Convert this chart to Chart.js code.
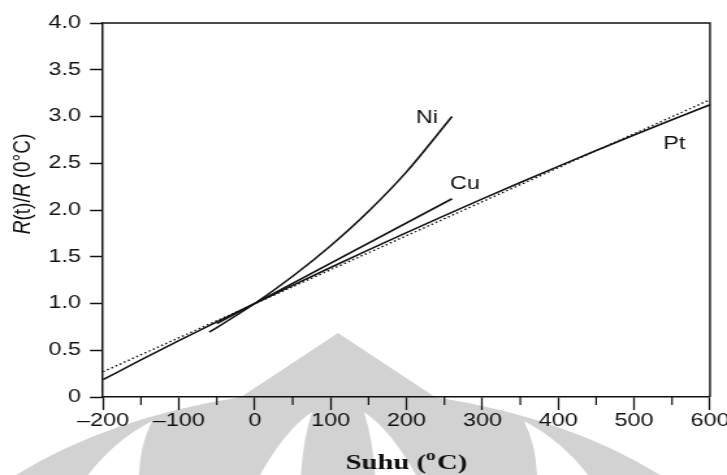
<!DOCTYPE html>
<html>
<head>
<meta charset="utf-8">
<title>Rasio hambatan terhadap suhu</title>
<script src="https://cdn.jsdelivr.net/npm/chart.js@4/dist/chart.umd.min.js"></script>
<style>
  html, body { margin: 0; padding: 0; background: #fff; overflow: hidden; }
  /* kanvas digambar 559px lalu direntangkan mendatar ke 727px */
  #bingkai { width: 559px; height: 475px; transform: scaleX(1.3005); transform-origin: 0 0; }
</style>
</head>
<body>
<div id="bingkai"><canvas id="grafik"></canvas></div>
<script>
// ===============================
// R(t)/R(0°C) untuk Pt, Ni dan Cu
// ===============================
const SKALA_X = 727 / 559;

// Platina (kurva)
const suhuPt = [-200, -150, -100, -50, 0, 50, 100, 150, 200, 250, 300, 350, 400, 450, 500, 550, 600];
const rasioPt = [0.185, 0.397, 0.603, 0.803, 1.000, 1.194, 1.385, 1.573, 1.758, 1.940, 2.119, 2.294, 2.467, 2.636, 2.802, 2.965, 3.125];

// garis lurus pendekatan (titik-titik)
const suhuLinear = [-200, 600];
const rasioLinear = [0.27, 3.18];

// Nikel
const suhuNi = [-60, -50, 0, 50, 100, 150, 200, 260];
const rasioNi = [0.695, 0.743, 1.000, 1.291, 1.618, 1.987, 2.408, 3.000];

// Tembaga
const suhuCu = [-50, 260];
const rasioCu = [0.785, 2.12];

// tick sumbu
const tickSuhu = [-200, -100, 0, 100, 200, 300, 400, 500, 600];
const labelSuhu = ['\u2013200', '\u2013100', '0', '100', '200', '300', '400', '500', '600'];
const tickRasio = [0, 0.5, 1.0, 1.5, 2.0, 2.5, 3.0, 3.5, 4.0];
const labelRasio = ['0', '0.5', '1.0', '1.5', '2.0', '2.5', '3.0', '3.5', '4.0'];

// nama logam + letak tulisannya (koordinat data)
const namaLogam = ['Ni', 'Cu', 'Pt'];
const letakNama = [[227, 2.98], [277, 2.28], [553, 2.71]];

const HITAM = '#111111';
const SANS = '"Liberation Sans", Arial, sans-serif';

function titik(xs, ys) {
    return xs.map((x, i) => ({ x: x, y: ys[i] }));
}

// logo samar di latar belakang
const latarLogo = {
    id: 'latarLogo',
    beforeDraw(chart) {
        const ctx = chart.ctx;
        ctx.save();
        ctx.scale(1 / SKALA_X, 1);
        ctx.fillStyle = '#d2d2d2';
        ctx.beginPath();
        ctx.moveTo(16, 480);
        ctx.lineTo(16, 475);
        ctx.quadraticCurveTo(108, 418, 241, 397);
        ctx.lineTo(338, 333);
        ctx.lineTo(435, 397);
        ctx.quadraticCurveTo(568, 418, 660, 475);
        ctx.lineTo(660, 480);
        ctx.closePath();
        ctx.fill();

        // celah putih di dalam logo
        ctx.fillStyle = '#ffffff';
        const celah = [
            [88, 115, 440, 152, 421, 140, 445, 139],
            [260, 285, 430, 312, 412, 303, 440, 301],
            [416, 391, 430, 364, 412, 373, 440, 375],
            [588, 561, 440, 524, 421, 536, 445, 537]
        ];
        celah.forEach(c => {
            ctx.beginPath();
            ctx.moveTo(c[0], 480);
            ctx.lineTo(c[0], 475);
            ctx.quadraticCurveTo(c[1], c[2], c[3], c[4]);
            ctx.quadraticCurveTo(c[5], c[6], c[7], 475);
            ctx.lineTo(c[7], 480);
            ctx.closePath();
            ctx.fill();
        });
        ctx.restore();
    }
};

// bingkai atas/kanan, tick kecil, nama logam dan judul sumbu
const hiasan = {
    id: 'hiasan',
    afterDraw(chart) {
        const ctx = chart.ctx;
        const a = chart.chartArea;
        const sx = chart.scales.x;
        const sy = chart.scales.y;

        ctx.save();
        ctx.strokeStyle = HITAM;
        ctx.lineWidth = 1.4;
        ctx.beginPath();
        ctx.moveTo(a.left, a.top);
        ctx.lineTo(a.right, a.top);
        ctx.lineTo(a.right, a.bottom);
        ctx.stroke();

        // tick kecil di antara tick utama
        ctx.lineWidth = 1.2;
        for (let i = 0; i < tickSuhu.length - 1; i++) {
            const px = sx.getPixelForValue((tickSuhu[i] + tickSuhu[i + 1]) / 2);
            ctx.beginPath();
            ctx.moveTo(px, a.bottom);
            ctx.lineTo(px, a.bottom + 8);
            ctx.stroke();
        }

        // nama logam
        ctx.fillStyle = HITAM;
        ctx.font = '18px ' + SANS;
        ctx.textAlign = 'center';
        ctx.textBaseline = 'middle';
        namaLogam.forEach((n, i) => {
            ctx.fillText(n, sx.getPixelForValue(letakNama[i][0]), sy.getPixelForValue(letakNama[i][1]));
        });

        // judul sumbu x: Suhu (°C) dengan o kecil di atas
        ctx.textAlign = 'left';
        ctx.textBaseline = 'alphabetic';
        const fBesar = 'bold 22px "Liberation Serif", "Times New Roman", serif';
        const fKecil = 'bold 15px "Liberation Serif", "Times New Roman", serif';
        ctx.font = fBesar;
        const w1 = ctx.measureText('Suhu (').width;
        const w3 = ctx.measureText('C)').width;
        ctx.font = fKecil;
        const w2 = ctx.measureText('o').width + 1;
        let x0 = (a.left + a.right) / 2 - (w1 + w2 + w3) / 2;
        const yb = 469;
        ctx.font = fBesar;
        ctx.fillText('Suhu (', x0, yb);
        ctx.font = fKecil;
        ctx.fillText('o', x0 + w1, yb - 9);
        ctx.font = fBesar;
        ctx.fillText('C)', x0 + w1 + w2, yb);

        // judul sumbu y: R(t)/R (0°C), huruf R miring
        const bagian = [['R', 'italic '], ['(t)/', ''], ['R', 'italic '], [' (0\u00b0C)', '']];
        ctx.translate(23 / SKALA_X, 184);
        ctx.rotate(-Math.PI / 2);
        ctx.textBaseline = 'middle';
        let total = 0;
        bagian.forEach(b => { ctx.font = b[1] + '19px ' + SANS; total += ctx.measureText(b[0]).width; });
        let xs = -total / 2;
        bagian.forEach(b => {
            ctx.font = b[1] + '19px ' + SANS;
            ctx.fillText(b[0], xs, 0);
            xs += ctx.measureText(b[0]).width;
        });
        ctx.restore();
    }
};

const garisPenuh = { borderColor: HITAM, borderWidth: 1.6, pointRadius: 0, fill: false, cubicInterpolationMode: 'monotone' };

const grafik = new Chart(document.getElementById('grafik'), {
    type: 'line',
    data: {
        datasets: [
            Object.assign({ label: 'Pt', data: titik(suhuPt, rasioPt) }, garisPenuh),
            Object.assign({ label: 'linear', data: titik(suhuLinear, rasioLinear) }, garisPenuh, { borderDash: [1.5, 2.2], borderWidth: 1.4 }),
            Object.assign({ label: 'Ni', data: titik(suhuNi, rasioNi) }, garisPenuh),
            Object.assign({ label: 'Cu', data: titik(suhuCu, rasioCu) }, garisPenuh)
        ]
    },
    options: {
        responsive: true,
        maintainAspectRatio: false,
        animation: false,
        layout: { padding: { top: 23, right: 559 - 710 / SKALA_X, left: 0, bottom: 0 } },
        plugins: { legend: { display: false }, tooltip: { enabled: false } },
        scales: {
            x: {
                type: 'linear',
                min: -200,
                max: 600,
                afterBuildTicks(s) { s.ticks = tickSuhu.map(v => ({ value: v })); },
                afterFit(s) { s.height = 78; s.paddingLeft = 0; s.paddingRight = 0; },
                border: { display: true, color: HITAM, width: 1.5 },
                grid: { drawOnChartArea: false, drawTicks: true, tickLength: 13, tickColor: HITAM, tickWidth: 1.3 },
                ticks: {
                    color: HITAM,
                    padding: 0,
                    maxRotation: 0,
                    autoSkip: false,
                    font: { family: SANS, size: 18 },
                    callback: v => labelSuhu[tickSuhu.indexOf(v)]
                }
            },
            y: {
                type: 'linear',
                min: 0,
                max: 4,
                afterBuildTicks(s) { s.ticks = tickRasio.map(v => ({ value: v })); },
                afterFit(s) { s.width = 103 / SKALA_X; s.paddingTop = 0; s.paddingBottom = 0; },
                border: { display: true, color: HITAM, width: 1.5 },
                grid: { drawOnChartArea: false, drawTicks: true, tickLength: 10, tickColor: HITAM, tickWidth: 1.5 },
                ticks: {
                    color: HITAM,
                    padding: 7,
                    autoSkip: false,
                    font: { family: SANS, size: 18 },
                    callback: v => labelRasio[tickRasio.indexOf(v)]
                }
            }
        }
    },
    plugins: [latarLogo, hiasan]
});
</script>
</body>
</html>
